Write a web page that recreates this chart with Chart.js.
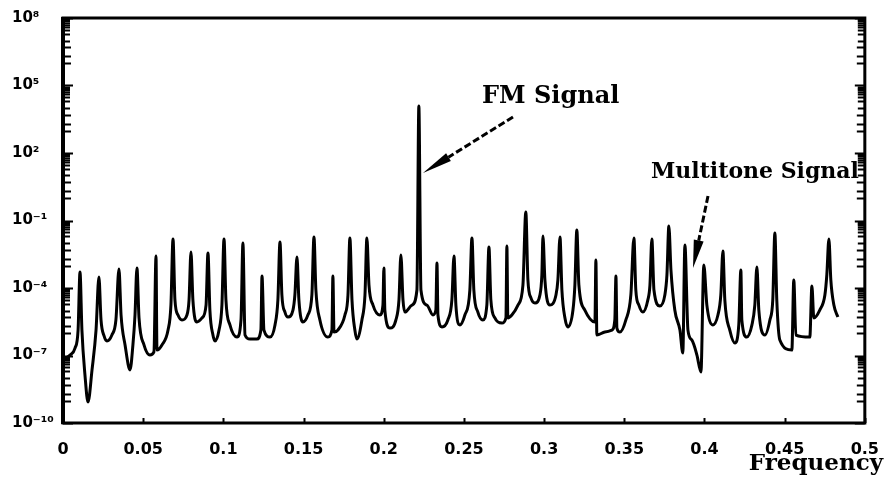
<!DOCTYPE html>
<html>
<head>
<meta charset="utf-8">
<script src="https://cdn.jsdelivr.net/npm/chart.js@4/dist/chart.umd.min.js"></script>
<style>
  html, body { margin: 0; padding: 0; background: #fff; }
  #wrap { width: 888px; height: 481px; }
</style>
</head>
<body>
<div id="wrap"><canvas id="spec" width="888" height="481"></canvas></div>
<script>
// Normalised frequency of each sample of the spectrum trace
const spectrumFreq = [
  0, 0.0044, 0.0075, 0.0094, 0.0106, 0.0118, 0.0137, 0.0156, 0.0181, 0.0206,
  0.0224, 0.0237, 0.0256, 0.0274, 0.0305, 0.0330, 0.0349, 0.0362, 0.0387, 0.0418,
  0.0436, 0.0449, 0.0461, 0.0474, 0.0505, 0.0542, 0.0567, 0.0580, 0.0586, 0.0617,
  0.0655, 0.0673, 0.0686, 0.0698, 0.0717, 0.0742, 0.0773, 0.0786, 0.0798, 0.0810,
  0.0835, 0.0867, 0.0892, 0.0904, 0.0916, 0.0935, 0.0948, 0.0973, 0.0991, 0.1004,
  0.1016, 0.1041, 0.1085, 0.1110, 0.1122, 0.1135, 0.1166, 0.1209, 0.1234, 0.1241,
  0.1253, 0.1291, 0.1322, 0.1340, 0.1353, 0.1365, 0.1384, 0.1403, 0.1434, 0.1446,
  0.1459, 0.1471, 0.1496, 0.1527, 0.1552, 0.1565, 0.1577, 0.1602, 0.1652, 0.1677,
  0.1683, 0.1690, 0.1714, 0.1758, 0.1777, 0.1789, 0.1802, 0.1820, 0.1833, 0.1864,
  0.1883, 0.1895, 0.1908, 0.1933, 0.1976, 0.1995, 0.2001, 0.2007, 0.2039, 0.2076,
  0.2095, 0.2107, 0.2120, 0.2132, 0.2176, 0.2207, 0.2219, 0.2232, 0.2269, 0.2307,
  0.2325, 0.2332, 0.2338, 0.2363, 0.2400, 0.2425, 0.2438, 0.2450, 0.2475, 0.2506,
  0.2537, 0.2550, 0.2562, 0.2587, 0.2618, 0.2643, 0.2656, 0.2668, 0.2693, 0.2737,
  0.2762, 0.2768, 0.2774, 0.2799, 0.2837, 0.2868, 0.2886, 0.2899, 0.2918, 0.2943,
  0.2974, 0.2986, 0.2993, 0.3005, 0.3036, 0.3074, 0.3086, 0.3099, 0.3111, 0.3130,
  0.3148, 0.3180, 0.3192, 0.3204, 0.3217, 0.3254, 0.3317, 0.3323, 0.3329, 0.3379,
  0.3423, 0.3441, 0.3448, 0.3454, 0.3473, 0.3510, 0.3541, 0.3560, 0.3572, 0.3591,
  0.3616, 0.3647, 0.3660, 0.3672, 0.3685, 0.3722, 0.3753, 0.3766, 0.3778, 0.3791,
  0.3815, 0.3847, 0.3865, 0.3878, 0.3897, 0.3921, 0.3953, 0.3978, 0.3996, 0.4015,
  0.4052, 0.4084, 0.4102, 0.4115, 0.4127, 0.4158, 0.4190, 0.4214, 0.4227, 0.4233,
  0.4264, 0.4296, 0.4314, 0.4327, 0.4339, 0.4377, 0.4408, 0.4426, 0.4439, 0.4451,
  0.4470, 0.4545, 0.4557, 0.4570, 0.4657, 0.4670, 0.4682, 0.4719, 0.4751, 0.4763,
  0.4776, 0.4788, 0.4807, 0.4832
];

// Spectrum magnitude at each sample, as a power of ten
const spectrumLog10 = [
  -7.20, -6.98, -6.67, -5.87, -3.29, -5.87, -7.87, -9.07, -7.64, -5.87,
  -3.51, -5.42, -6.13, -6.36, -6.09, -5.42, -3.16, -5.20, -6.53, -7.64,
  -6.53, -5.20, -3.11, -5.33, -6.53, -6.98, -6.84, -2.58, -6.76, -6.53,
  -5.87, -4.76, -1.82, -4.53, -5.20, -5.42, -5.20, -4.53, -2.40, -4.53,
  -5.51, -5.33, -4.76, -2.44, -4.98, -6.09, -6.36, -5.87, -4.76, -1.82,
  -4.53, -5.64, -6.18, -5.42, -2.00, -6.09, -6.27, -6.27, -5.87, -3.47,
  -5.87, -6.18, -5.64, -4.53, -1.96, -4.31, -5.07, -5.29, -4.98, -4.31,
  -2.62, -4.53, -5.51, -5.20, -4.31, -1.73, -4.09, -5.42, -6.18, -5.87,
  -3.47, -5.96, -5.87, -5.20, -4.31, -1.78, -4.53, -5.87, -6.27, -5.42,
  -4.31, -1.78, -3.87, -4.76, -5.20, -4.76, -3.11, -4.98, -5.78, -5.42,
  -4.53, -2.53, -4.53, -5.07, -4.76, -4.09,  4.09, -4.09, -4.76, -5.20,
  -4.98, -2.89, -5.20, -5.73, -5.42, -4.53, -2.58, -4.76, -5.64, -5.20,
  -4.09, -1.78, -4.09, -5.07, -5.42, -4.76, -2.18, -4.53, -5.33, -5.56,
  -5.33, -2.13, -5.33, -5.20, -4.76, -3.87, -0.62, -3.64, -4.44, -4.67,
  -4.31, -3.42, -1.69, -3.64, -4.76, -4.31, -3.64, -1.73, -4.09, -5.33,
  -5.73, -4.98, -3.87, -1.42, -3.87, -4.98, -5.51, -2.76, -6.09, -5.96,
  -5.87, -5.42, -3.47, -5.78, -5.96, -5.42, -4.31, -1.78, -4.09, -4.76,
  -5.07, -4.53, -3.87, -1.82, -4.09, -4.80, -4.31, -3.42, -1.24, -3.20,
  -4.98, -5.87, -6.89, -2.09, -5.87, -6.31, -6.98, -7.73, -2.98, -4.76,
  -5.64, -5.20, -4.31, -2.36, -4.53, -5.87, -6.44, -5.64, -3.20, -5.42,
  -6.18, -5.64, -4.76, -3.07, -4.98, -6.09, -5.42, -4.53, -1.56, -4.53,
  -6.31, -6.76, -3.64, -6.09, -6.18, -3.91, -5.33, -4.98, -4.31, -3.42,
  -1.82, -3.64, -4.76, -5.29
];

// Axis tick values
const xTickValues = [0, 0.05, 0.1, 0.15, 0.2, 0.25, 0.3, 0.35, 0.4, 0.45, 0.5];
const yLabelExponents = [-10, -7, -4, -1, 2, 5, 8];
// Minor tick multipliers below each labelled power: one decade of 1..9, then 5, 2, 1 of the next
const minorDecade1 = [1, 2, 3, 4, 5, 6, 7, 8, 9];
const minorDecade2 = [1, 2, 5];

const SUP = { '0': '⁰', '1': '¹', '2': '²', '3': '³', '4': '⁴', '5': '⁵',
              '6': '⁶', '7': '⁷', '8': '⁸', '9': '⁹', '-': '⁻' };
const powLabel = e => '10' + String(e).split('').map(c => SUP[c]).join('');

const points = spectrumFreq.map((f, i) => ({ x: f, y: Math.pow(10, spectrumLog10[i]) }));

// Frame, inward ticks and annotations
const decor = {
  id: 'decor',
  afterDraw(chart) {
    const { ctx, chartArea: a, scales: { x, y } } = chart;
    ctx.save();
    ctx.strokeStyle = '#000';
    ctx.fillStyle = '#000';
    ctx.lineCap = 'butt';

    function yTick(v, len) {
      if (v < 1e-10 || v > 1e8) return;
      const py = Math.round(y.getPixelForValue(v)) + 0.5;
      ctx.beginPath();
      ctx.moveTo(a.left, py); ctx.lineTo(a.left + len, py);
      ctx.moveTo(a.right, py); ctx.lineTo(a.right - len, py);
      ctx.stroke();
    }
    ctx.lineWidth = 2;
    yLabelExponents.forEach(e => {
      yTick(Math.pow(10, e), 10);
      minorDecade1.forEach(k => yTick(k * Math.pow(10, e - 1), 7));
      minorDecade2.forEach(k => yTick(k * Math.pow(10, e - 2), 8));
    });

    // bottom ticks
    xTickValues.forEach(v => {
      const px = Math.round(x.getPixelForValue(v)) + 0.5;
      ctx.beginPath();
      ctx.moveTo(px, a.bottom); ctx.lineTo(px, a.bottom - 5);
      ctx.stroke();
    });

    // frame
    ctx.lineWidth = 3;
    ctx.beginPath();
    ctx.moveTo(a.left, a.top); ctx.lineTo(a.right, a.top);
    ctx.lineTo(a.right, a.bottom); ctx.lineTo(a.left, a.bottom);
    ctx.closePath();
    ctx.stroke();
    ctx.lineWidth = 4;
    ctx.beginPath();
    ctx.moveTo(a.left, a.top - 1); ctx.lineTo(a.left, a.bottom + 1);
    ctx.stroke();

    // dashed arrows
    function arrow(x0, y0, x1, y1, headLen, headHalf) {
      const dx = x1 - x0, dy = y1 - y0, L = Math.hypot(dx, dy);
      const ux = dx / L, uy = dy / L;
      const bx = x1 - ux * headLen, by = y1 - uy * headLen;
      ctx.lineWidth = 3;
      ctx.setLineDash([7, 3]);
      ctx.beginPath();
      ctx.moveTo(x0, y0); ctx.lineTo(bx, by);
      ctx.stroke();
      ctx.setLineDash([]);
      ctx.beginPath();
      ctx.moveTo(x1, y1);
      ctx.lineTo(bx - uy * headHalf, by + ux * headHalf);
      ctx.lineTo(bx + uy * headHalf, by - ux * headHalf);
      ctx.closePath();
      ctx.fill();
    }
    arrow(513, 117, 423, 173, 30, 4.5);
    arrow(708, 196, 693, 268, 28, 5);

    ctx.textBaseline = 'alphabetic';
    ctx.textAlign = 'left';
    ctx.font = 'bold 24px "DejaVu Serif"';
    ctx.fillText('FM Signal', 482, 103);
    ctx.font = 'bold 22px "DejaVu Serif"';
    ctx.fillText('Multitone Signal', 651, 178);
    ctx.textAlign = 'right';
    ctx.font = 'bold 23px "DejaVu Serif"';
    ctx.fillText('Frequency', 883, 470);
    ctx.restore();
  }
};

new Chart(document.getElementById('spec'), {
  type: 'line',
  data: {
    datasets: [{
      data: points,
      borderColor: '#000',
      borderWidth: 3,
      borderJoinStyle: 'round',
      cubicInterpolationMode: 'monotone',
      pointRadius: 0,
      fill: false
    }]
  },
  options: {
    responsive: false,
    animation: false,
    devicePixelRatio: 1,
    layout: { padding: { left: 12, top: 18, right: 22, bottom: 0 } },
    plugins: { legend: { display: false }, tooltip: { enabled: false } },
    scales: {
      x: {
        type: 'linear',
        min: 0, max: 0.5,
        grid: { display: false },
        border: { display: false },
        afterBuildTicks: s => { s.ticks = xTickValues.map(v => ({ value: v })); },
        afterFit: s => { s.height = 58; },
        ticks: {
          padding: 9,
          color: '#000',
          font: { family: 'DejaVu Sans', weight: 'bold', size: 16 },
          callback: v => String(parseFloat(Number(v).toFixed(2)))
        }
      },
      y: {
        type: 'logarithmic',
        min: 1e-10, max: 1e8,
        grid: { display: false },
        border: { display: false },
        afterBuildTicks: s => { s.ticks = yLabelExponents.map(e => ({ value: Math.pow(10, e) })); },
        afterFit: s => { s.width = 51; },
        ticks: {
          crossAlign: 'far',
          color: '#000',
          autoSkip: false,
          font: { family: 'DejaVu Sans', weight: 'bold', size: 15 },
          callback: v => powLabel(Math.round(Math.log10(v)))
        }
      }
    }
  },
  plugins: [decor]
});
</script>
</body>
</html>
